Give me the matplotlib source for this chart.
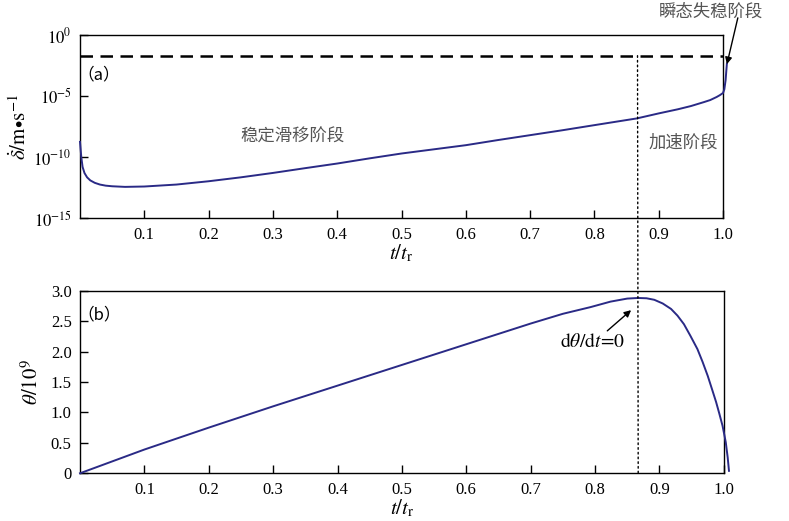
import matplotlib
matplotlib.use('Agg')
import matplotlib.pyplot as plt
import numpy as np
from matplotlib.patches import ConnectionPatch

plt.rcParams['font.family'] = ['Liberation Serif', 'Noto Sans CJK SC', 'DejaVu Sans']
plt.rcParams['mathtext.fontset'] = 'stix'

t_a = [0.0, 0.002, 0.004, 0.007, 0.011, 0.016, 0.023, 0.031, 0.04, 0.05, 0.07, 0.1,
       0.15, 0.2, 0.25, 0.3, 0.35, 0.4, 0.45, 0.5, 0.55, 0.6, 0.65, 0.7, 0.75, 0.8,
       0.83, 0.866, 0.9, 0.93, 0.95, 0.97, 0.98, 0.99, 0.995, 1.0, 1.002, 1.004,
       1.005, 1.006]
logv_a = [-8.75, -10.0, -10.8, -11.3, -11.65, -11.9, -12.1, -12.24, -12.33, -12.38,
          -12.43, -12.4, -12.24, -11.97, -11.65, -11.29, -10.9, -10.52, -10.1, -9.70,
          -9.36, -9.02, -8.6, -8.2, -7.8, -7.38, -7.13, -6.83, -6.42, -6.08, -5.82,
          -5.5, -5.33, -5.08, -4.93, -4.75, -4.45, -3.7, -3.0, -2.35]
v_dyn = 0.02  # dashed threshold

# panel (b): state variable theta / 1e9
t_b = [0.0, 0.1, 0.2, 0.3, 0.4, 0.5, 0.6, 0.7, 0.75, 0.793, 0.824, 0.85, 0.867, 0.88,
       0.892, 0.905, 0.918, 0.928, 0.938, 0.948, 0.959, 0.967, 0.975, 0.982, 0.988,
       0.993, 0.998, 1.001, 1.003, 1.006, 1.008]
theta_b = [0.0, 0.39, 0.75, 1.10, 1.44, 1.78, 2.12, 2.46, 2.62, 2.73, 2.82, 2.87,
           2.88, 2.875, 2.85, 2.79, 2.70, 2.59, 2.45, 2.26, 2.04, 1.83, 1.60, 1.37,
           1.17, 0.98, 0.78, 0.62, 0.51, 0.26, 0.04]
t_peak = 0.867

xticks = [0.1, 0.2, 0.3, 0.4, 0.5, 0.6, 0.7, 0.8, 0.9, 1.0]
xticklabels = ['0.1', '0.2', '0.3', '0.4', '0.5', '0.6', '0.7', '0.8', '0.9', '1.0']
yticks_a = [1e-15, 1e-10, 1e-5, 1e0]
yticklabels_a = [r'$10^{-15}$', r'$10^{-10}$', r'$10^{-5}$', r'$10^{0}$']
yticks_b = [0, 0.5, 1.0, 1.5, 2.0, 2.5, 3.0]
yticklabels_b = ['0', '0.5', '1.0', '1.5', '2.0', '2.5', '3.0']

LINE_C = '#2a2a86'
TEXT_GRAY = '#555555'
CJK = ['Noto Sans CJK SC', 'DejaVu Sans']

fig = plt.figure(figsize=(7.89, 5.21), dpi=100)
ax1 = fig.add_axes([0.1014, 0.581, 0.815, 0.352])
ax2 = fig.add_axes([0.1014, 0.0916, 0.816, 0.3505])

for ax in (ax1, ax2):
    ax.set_xlim(0, 1.0)
    ax.set_xticks(xticks)
    ax.set_xticklabels(xticklabels)
    ax.tick_params(direction='in', length=6, width=1, labelsize=12, pad=6,
                   top=False, right=False)
    for s in ax.spines.values():
        s.set_linewidth(1.0)
    ax.set_xlabel(r'$t/t_\mathrm{r}$', fontsize=15, labelpad=0)

# (a)
ax1.set_yscale('log')
ax1.set_ylim(1e-15, 1e0)
ax1.set_yticks(yticks_a)
ax1.set_yticklabels(yticklabels_a)
ax1.minorticks_off()
ax1.plot(t_a, 10.0 ** np.array(logv_a), color=LINE_C, lw=1.4, clip_on=False, zorder=3)
ax1.axhline(v_dyn, color='black', lw=1.8, dashes=(5, 3))
ax1.set_ylabel(r'$\dot{\delta}/\mathrm{m}\!\bullet\!\mathrm{s}^{-1}$', fontsize=15, labelpad=2)
ax1.text(-0.004, 0.76, '（a）', transform=ax1.transAxes, fontsize=12, family=CJK)
ax1.text(0.331, 0.443, '稳定滑移阶段', transform=ax1.transAxes, fontsize=12.5,
         family=CJK, color=TEXT_GRAY, ha='center', va='center')
ax1.text(0.938, 0.411, '加速阶段', transform=ax1.transAxes, fontsize=12.5,
         family=CJK, color=TEXT_GRAY, ha='center', va='center')
ax1.text(0.981, 1.125, '瞬态失稳阶段', transform=ax1.transAxes, fontsize=12.5,
         family=CJK, color=TEXT_GRAY, ha='center', va='center')
ax1.annotate('', xy=(1.006, 10 ** -2.4), xycoords='data',
             xytext=(1.023, 1.093), textcoords=ax1.transAxes,
             arrowprops=dict(arrowstyle='-|>', color='black', lw=1.0,
                             shrinkA=0, shrinkB=0, mutation_scale=10),
             annotation_clip=False)

# (b)
ax2.set_ylim(0, 3.0)
ax2.set_yticks(yticks_b)
ax2.set_yticklabels(yticklabels_b)
ax2.plot(t_b, theta_b, color=LINE_C, lw=1.4, clip_on=False, zorder=3)
ax2.set_ylabel(r'$\theta/10^{9}$', fontsize=15, labelpad=6)
ax2.text(-0.004, 0.84, '（b）', transform=ax2.transAxes, fontsize=12, family=CJK)
ax2.text(0.797, 2.16, r'$\mathrm{d}\theta/\mathrm{d}t\!=\!0$', fontsize=14,
         ha='center', va='center')
ax2.annotate('', xy=(0.856, 2.68), xycoords='data',
             xytext=(0.819, 2.34), textcoords='data',
             arrowprops=dict(arrowstyle='-|>', color='black', lw=1.0,
                             shrinkA=0, shrinkB=0, mutation_scale=10))

# dotted marker line at the theta peak, across both panels
con = ConnectionPatch(xyA=(t_peak, v_dyn), coordsA=ax1.transData,
                      xyB=(t_peak, 0), coordsB=ax2.transData,
                      color='black', lw=1.0, linestyle=(0, (1.2, 2.2)))
fig.add_artist(con)

fig.savefig('out.png', dpi=100)
